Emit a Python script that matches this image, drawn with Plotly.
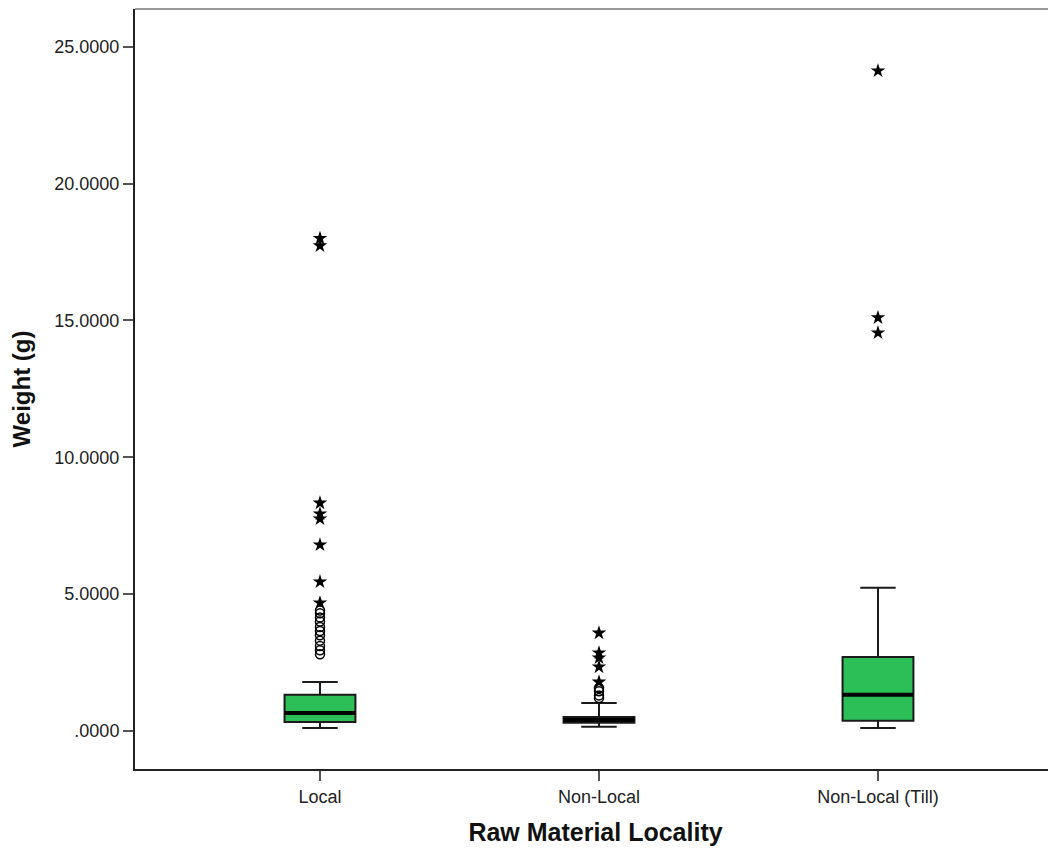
import plotly.graph_objects as go

categories = ["Local", "Non-Local", "Non-Local (Till)"]
q1 = [0.33, 0.30, 0.37]
median = [0.66, 0.40, 1.32]
q3 = [1.32, 0.51, 2.70]
lower_fence = [0.11, 0.15, 0.11]
upper_fence = [1.79, 1.02, 5.23]

# outliers (circles) and extremes (stars), per category
circle_outliers = [
    [2.80, 2.95, 3.10, 3.30, 3.50, 3.65, 3.80, 4.00, 4.15, 4.30, 4.40],
    [1.20, 1.30, 1.45, 1.57],
    [],
]
star_extremes = [
    [4.68, 5.45, 6.80, 7.75, 7.93, 8.33, 17.73, 18.00],
    [1.79, 2.34, 2.67, 2.85, 3.58],
    [14.55, 15.10, 24.12],
]

y_tickvals = [0, 5, 10, 15, 20, 25]
y_ticktext = [".0000", "5.0000", "10.0000", "15.0000", "20.0000", "25.0000"]

GREEN = "#2CBF57"
BOX_W = 0.254

fig = go.Figure()
for i, cat in enumerate(categories):
    fig.add_trace(go.Box(
        x=[i], q1=[q1[i]], median=[median[i]], q3=[q3[i]],
        lowerfence=[lower_fence[i]], upperfence=[upper_fence[i]],
        fillcolor=GREEN, line=dict(color="#1a1a1a", width=2),
        width=BOX_W, whiskerwidth=0.5, boxpoints=False,
        showlegend=False, hoverinfo="skip", name=cat,
    ))
    # thick median line
    fig.add_trace(go.Scatter(
        x=[i - BOX_W / 2, i + BOX_W / 2], y=[median[i], median[i]],
        mode="lines", line=dict(color="black", width=4),
        showlegend=False, hoverinfo="skip",
    ))
    if circle_outliers[i]:
        fig.add_trace(go.Scatter(
            x=[i] * len(circle_outliers[i]), y=circle_outliers[i],
            mode="markers",
            marker=dict(symbol="circle-open", size=9, color="black", line=dict(width=1.5)),
            showlegend=False, hoverinfo="skip",
        ))
    if star_extremes[i]:
        fig.add_trace(go.Scatter(
            x=[i] * len(star_extremes[i]), y=star_extremes[i],
            mode="markers",
            marker=dict(symbol="star", size=11, color="black"),
            showlegend=False, hoverinfo="skip",
        ))

fig.update_layout(
    width=1048, height=842,
    margin=dict(l=127, r=0, t=1, b=81),
    paper_bgcolor="white", plot_bgcolor="white",
    font=dict(family="Liberation Sans, Arial, sans-serif", size=18, color="#333333"),
    xaxis=dict(
        range=[-0.663, 2.638], tickvals=[0, 1, 2], ticktext=categories,
        showgrid=False, zeroline=False,
        showline=True, linecolor="#222222", linewidth=2,
        ticks="outside", ticklen=10, tickwidth=2, tickcolor="#555555",
        tickfont=dict(size=18, color="#222222"),
        title=dict(text="<b>Raw Material Locality</b>", font=dict(size=25, color="#111111"), standoff=18),
    ),
    yaxis=dict(
        range=[-1.39, 26.38], tickvals=y_tickvals, ticktext=y_ticktext,
        showgrid=False, zeroline=False,
        showline=True, linecolor="#222222", linewidth=2,
        ticks="outside", ticklen=10, tickwidth=2, tickcolor="#555555",
        tickfont=dict(size=18, color="#222222"),
        title=dict(text="<b>Weight (g)</b>", font=dict(size=24, color="#111111"), standoff=18),
    ),
    shapes=[dict(type="line", xref="paper", yref="paper", x0=0, x1=1, y0=1, y1=1,
                 line=dict(color="#999999", width=2))],
)

fig.write_html("out.html")
